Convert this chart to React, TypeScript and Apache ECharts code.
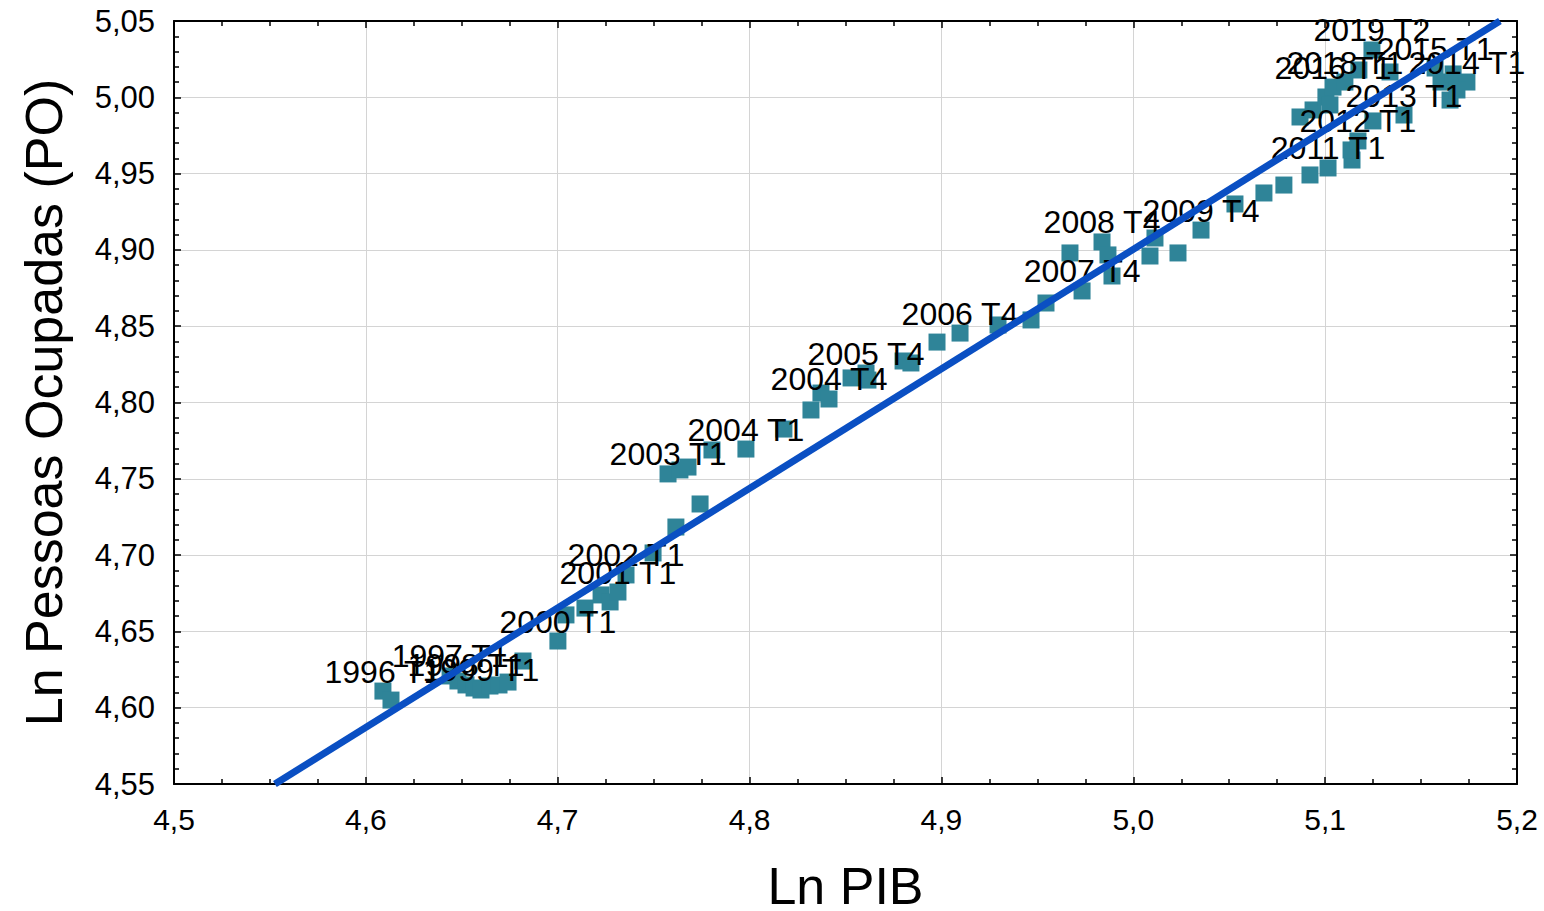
import React, { useEffect, useRef } from "react";
import * as echarts from "echarts";

// Ln PIB (x) values of the quarterly points
const lnPib: number[] = [
  4.6089, 4.6131, 4.6439, 4.648, 4.6522, 4.6564, 4.66, 4.6647, 4.6694, 4.6741,
  4.6819, 4.7001, 4.7043, 4.7142, 4.7226, 4.7273, 4.7314, 4.7356, 4.7497, 4.7616,
  4.7742, 4.7575, 4.7637, 4.7679, 4.7804, 4.7981, 4.8179, 4.832, 4.8372, 4.8414,
  4.8529, 4.8607, 4.8617, 4.88, 4.8841, 4.8977, 4.9097, 4.9295, 4.9467, 4.9545,
  4.967, 4.9733, 4.9837, 4.9868, 4.9889, 5.0087, 5.0113, 5.0233, 5.0353, 5.053,
  5.0681, 5.0785, 5.0921, 5.1015, 5.114, 5.1135, 5.1171, 5.1249, 5.1411, 5.0869,
  5.0937, 5.1004, 5.1025, 5.1041, 5.1103, 5.1176, 5.1244, 5.1338, 5.1573, 5.1604,
  5.1667, 5.1739, 5.1651, 5.1687,
];

// Ln Pessoas Ocupadas (y) values
const lnPO: number[] = [
  4.6109, 4.605, 4.6208, 4.6175, 4.6149, 4.6129, 4.6116, 4.6142, 4.6149, 4.6168,
  4.6306, 4.6437, 4.6608, 4.6653, 4.6739, 4.6693, 4.6758, 4.687, 4.7014, 4.7184,
  4.7335, 4.7532, 4.7558, 4.7577, 4.7689, 4.7695, 4.7826, 4.7951, 4.8062, 4.8023,
  4.8161, 4.8193, 4.8147, 4.8272, 4.8259, 4.8396, 4.8455, 4.8508, 4.8541, 4.8652,
  4.898, 4.8731, 4.9052, 4.8967, 4.8829, 4.896, 4.9078, 4.898, 4.913, 4.9301,
  4.9373, 4.9425, 4.9491, 4.9537, 4.9589, 4.9655, 4.9714, 4.9845, 4.9884, 4.9871,
  4.9917, 5.0002, 4.995, 5.0067, 5.01, 5.0179, 5.031, 5.0166, 5.0192, 5.01,
  5.0153, 5.01, 4.9982, 5.0048,
];

// Point labels ("" = unlabeled)
const pointLabels: string[] = [
  "1996 T1", "", "1997 T1", "", "1998 T1", "", "1999 T1", "", "", "",
  "", "2000 T1", "", "", "", "", "2001 T1", "2002 T1", "", "",
  "", "2003 T1", "", "", "", "2004 T1", "", "", "", "2004 T4",
  "", "2005 T4", "", "", "", "", "2006 T4", "", "", "",
  "", "2007 T4", "2008 T4", "", "", "", "", "", "2009 T4", "",
  "", "", "", "2011 T1", "", "", "2012 T1", "", "2013 T1", "",
  "", "", "", "2016 T1", "2018 T1", "", "2019 T2", "", "2015 T1", "",
  "", "2014 T1", "", "",
];

// Fitted regression line endpoints (where it meets the plot frame)
const fitX: number[] = [4.5526, 5.1911];
const fitY: number[] = [4.55, 5.05];

const xTicks = { min: 4.5, max: 5.2, interval: 0.1 };
const yTicks = { min: 4.55, max: 5.05, interval: 0.05 };

const FONT = "'Liberation Sans', Arial, sans-serif";

export default function App() {
  const ref = useRef<HTMLDivElement>(null);
  useEffect(() => {
    if (!ref.current) return;
    const chart = echarts.init(ref.current, undefined, { renderer: "svg" });
    const labelStyle = {
      position: "top",
      distance: -5,
      fontSize: 32,
      color: "#000",
      fontFamily: FONT,
    };
    const scatterData = lnPib.map((x, i) => ({
      value: [x, lnPO[i]],
      label: { show: pointLabels[i] !== "", formatter: pointLabels[i] },
    }));
    const axisLineStyle = { show: true, lineStyle: { color: "#000", width: 2 } };
    const tickStyle = { show: true, inside: true, length: 7, lineStyle: { color: "#000", width: 1.5 } };
    const minorX = { show: true, splitNumber: 4, length: 5, lineStyle: { color: "#000", width: 1.5 } };
    const minorY = { show: true, splitNumber: 5, length: 5, lineStyle: { color: "#000", width: 1.5 } };
    chart.setOption({
      animation: false,
      backgroundColor: "#fff",
      textStyle: { fontFamily: FONT },
      grid: {
        left: 174,
        right: 27,
        top: 21,
        bottom: 127,
        containLabel: false,
        outerBoundsMode: "none",
      },
      xAxis: [
        {
          type: "value",
          ...xTicks,
          position: "bottom",
          name: "Ln PIB",
          nameLocation: "middle",
          nameGap: 76,
          nameTextStyle: { fontSize: 52, color: "#000", fontFamily: FONT },
          axisLine: { ...axisLineStyle, onZero: false },
          axisTick: tickStyle,
          minorTick: minorX,
          splitLine: { show: true, lineStyle: { color: "#d4d4d4", width: 1 } },
          axisLabel: {
            fontSize: 30,
            color: "#000",
            margin: 20,
            fontFamily: FONT,
            formatter: (v: number) => v.toFixed(1).replace(".", ","),
          },
        },
        {
          type: "value",
          ...xTicks,
          position: "top",
          axisLine: { ...axisLineStyle, onZero: false },
          axisTick: tickStyle,
          minorTick: minorX,
          splitLine: { show: false },
          axisLabel: { show: false },
        },
      ],
      yAxis: [
        {
          type: "value",
          ...yTicks,
          position: "left",
          name: "Ln Pessoas Ocupadas (PO)",
          nameLocation: "middle",
          nameGap: 104,
          nameTextStyle: { fontSize: 52, color: "#000", fontFamily: FONT },
          axisLine: { ...axisLineStyle, onZero: false },
          axisTick: tickStyle,
          minorTick: minorY,
          splitLine: { show: true, lineStyle: { color: "#d4d4d4", width: 1 } },
          axisLabel: {
            fontSize: 31,
            color: "#000",
            margin: 19,
            fontFamily: FONT,
            formatter: (v: number) => v.toFixed(2).replace(".", ","),
          },
        },
        {
          type: "value",
          ...yTicks,
          position: "right",
          axisLine: { ...axisLineStyle, onZero: false },
          axisTick: tickStyle,
          minorTick: minorY,
          splitLine: { show: false },
          axisLabel: { show: false },
        },
      ],
      series: [
        {
          type: "scatter",
          xAxisIndex: 0,
          yAxisIndex: 0,
          symbol: "rect",
          symbolSize: 17,
          itemStyle: { color: "#2f8498", opacity: 1 },
          z: 2,
          label: labelStyle,
          labelLayout: { hideOverlap: false },
          data: scatterData,
        },
        {
          type: "line",
          xAxisIndex: 0,
          yAxisIndex: 0,
          symbol: "none",
          z: 5,
          silent: true,
          lineStyle: { color: "#0a4fc3", width: 7 },
          data: fitX.map((x, i) => [x, fitY[i]]),
        },
      ],
    });
    return () => chart.dispose();
  }, []);
  return (
    <div
      ref={ref}
      style={{ position: "fixed", left: 0, top: 0, width: 1544, height: 911, background: "#fff" }}
    />
  );
}
